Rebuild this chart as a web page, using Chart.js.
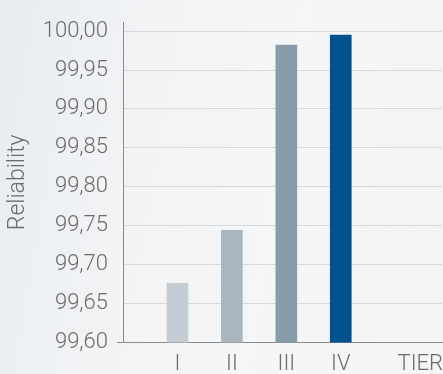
<!DOCTYPE html>
<html>
<head>
<meta charset="utf-8">
<script src="https://cdn.jsdelivr.net/npm/chart.js@4"></script>
<style>
  html, body { margin: 0; padding: 0; }
  body {
    width: 443px; height: 374px; overflow: hidden;
    background: linear-gradient(100deg, #e9ecef 0%, #f1f3f5 30%, #f4f6f8 60%, #f2f4f6 100%);
  }
  #wrap { position: relative; width: 443px; height: 374px; }
</style>
</head>
<body>
<div id="wrap"><canvas id="tierChart"></canvas></div>
<script>
const tiers = ['I', 'II', 'III', 'IV'];
const reliability = [99.676, 99.744, 99.982, 99.995];
const barColors = ['#c4cdd4', '#a9b6bf', '#869ca9', '#02528f'];
const axisLabel = 'TIER';

// positions on the x axis: one slot per tier, the axis name sits past the last one
const tierSlots = tiers.map((t, i) => i + 1);
const axisLabelSlot = 5.46;

const labelFont = { family: 'Roboto', size: 22, weight: '300' };
const clear = 'rgba(0,0,0,0)';

new Chart(document.getElementById('tierChart'), {
  type: 'bar',
  data: {
    datasets: [{
      data: tiers.map((t, i) => ({ x: tierSlots[i], y: reliability[i] })),
      backgroundColor: barColors,
      barThickness: 21,
      borderWidth: 0
    }]
  },
  options: {
    responsive: true,
    maintainAspectRatio: false,
    animation: false,
    layout: { padding: { top: 17, right: 0, bottom: 0, left: 0 } },
    plugins: { legend: { display: false }, tooltip: { enabled: false } },
    scales: {
      x: {
        type: 'linear',
        offset: false,
        min: 0,
        max: 5.86,
        afterFit: s => { s.height = 31.5; },
        afterBuildTicks: s => {
          s.ticks = tierSlots.concat([axisLabelSlot]).map(v => ({ value: v }));
        },
        // invisible tick marks only push the labels down
        grid: { display: true, color: clear, drawOnChartArea: false, drawTicks: true, tickLength: 9, tickColor: clear, offset: false },
        border: { display: true, color: '#8a8a8a', width: 1 },
        ticks: {
          autoSkip: false,
          maxRotation: 0,
          padding: 0,
          color: '#6b6b6b',
          font: labelFont,
          callback: v => {
            const i = tierSlots.indexOf(v);
            return i >= 0 ? tiers[i] : axisLabel;
          }
        }
      },
      y: {
        min: 99.6,
        max: 100.0114,
        afterFit: s => { s.width = 123; },
        grid: {
          color: '#d6d8db',
          lineWidth: 1,
          tickLength: 6,
          tickColor: ctx => ctx.index === 0 ? '#8a8a8a' : clear
        },
        border: { display: true, color: '#8a8a8a', width: 1 },
        ticks: {
          stepSize: 0.05,
          includeBounds: false,
          padding: 9,
          color: '#6b6b6b',
          font: labelFont,
          callback: v => v.toFixed(2).replace('.', ',')
        },
        title: {
          display: true,
          text: 'Reliability',
          color: '#6b6b6b',
          font: { family: 'Roboto', size: 23, weight: '300' },
          padding: { top: 4, bottom: 0 }
        }
      }
    }
  }
});
</script>
</body>
</html>
